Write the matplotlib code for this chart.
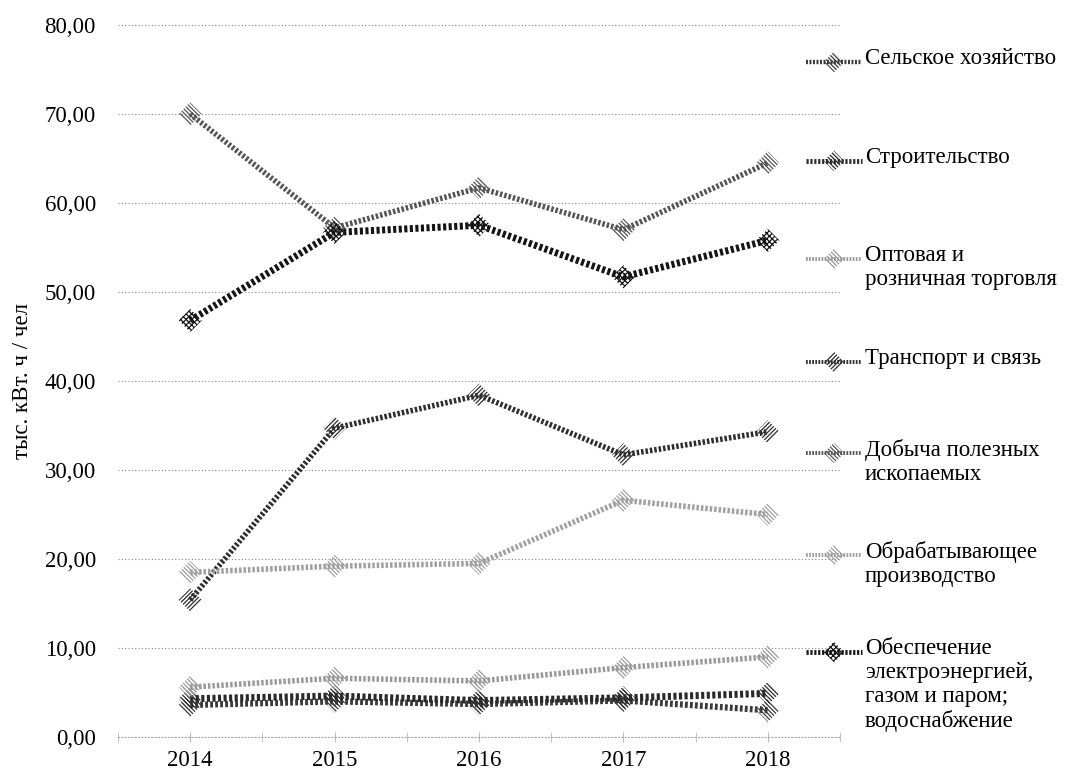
import matplotlib
matplotlib.use("Agg")
import matplotlib.pyplot as plt
from matplotlib.ticker import FuncFormatter, FixedLocator

plt.rcParams['font.family'] = ['Liberation Serif', 'DejaVu Serif']
plt.rcParams['hatch.linewidth'] = 0.9

years = ['2014', '2015', '2016', '2017', '2018']

selsk   = [3.6, 4.0, 3.7, 4.1, 3.0]
stroit  = [4.3, 4.6, 4.1, 4.4, 4.9]
torg    = [5.6, 6.6, 6.3, 7.8, 9.0]
transp  = [15.4, 34.7, 38.4, 31.7, 34.3]
dobycha = [70.0, 57.2, 61.7, 57.0, 64.5]
obrab   = [18.5, 19.2, 19.5, 26.6, 25.0]
energ   = [46.8, 56.7, 57.5, 51.7, 55.8]

labels = ['Сельское хозяйство',
          'Строительство',
          'Оптовая и\nрозничная торговля',
          'Транспорт и связь',
          'Добыча полезных\nископаемых',
          'Обрабатывающее\nпроизводство',
          'Обеспечение\nэлектроэнергией,\nгазом и паром;\nводоснабжение']
series = [selsk, stroit, torg, transp, dobycha, obrab, energ]

# (line colour, line width, hatch for the diamonds)
bs = '\\' * 8
fs = '/' * 8
styles = [('#3a3a3a', 4.5, bs),
          ('#2a2a2a', 5.0, bs),
          ('#9a9a9a', 4.0, bs),
          ('#2e2e2e', 4.0, fs),
          ('#555555', 4.0, bs),
          ('#a0a0a0', 4.0, bs),
          ('#151515', 5.0, 'xxxxxx')]

fig = plt.figure(figsize=(10.71, 7.74), dpi=100)
ax = fig.add_axes([118/1071, 1-737/774, (840-118)/1071, (737-25)/774])

x = list(range(len(years)))
for vals, (col, lw, h) in zip(series, styles):
    ax.plot(x, vals, color=col, lw=lw, dashes=(0.45, 0.35), zorder=3)
    ax.scatter(x, vals, marker='D', s=140, facecolor='none', edgecolor=col,
               linewidths=0, hatch=h, zorder=4)

ax.set_xlim(-0.5, len(years) - 0.5)
ax.set_ylim(0, 80)
ax.set_yticks(range(0, 81, 10))
ax.yaxis.set_major_formatter(FuncFormatter(lambda v, p: f'{v:.2f}'.replace('.', ',')))
ax.set_xticks(x)
ax.set_xticklabels(years)
ax.xaxis.set_minor_locator(FixedLocator([i - 0.5 for i in range(len(years) + 1)]))
ax.tick_params(axis='y', length=0, labelsize=16.5, pad=16)
ax.tick_params(axis='x', which='both', length=7, direction='inout', color='#bbbbbb',
               labelsize=16.5, pad=6)

ax.grid(axis='y', color='#888888', linestyle=(0, (1, 2)), lw=0.8)
for s in ['top', 'right', 'left']:
    ax.spines[s].set_visible(False)
ax.spines['bottom'].set_color('#aaaaaa')
ax.spines['bottom'].set_linestyle((0, (1, 2)))
ax.spines['bottom'].set_linewidth(0.8)
ax.set_ylabel('тыс. кВт. ч / чел', fontsize=16.5, labelpad=8)

# legend drawn in figure pixel space on the right
lax = fig.add_axes([0, 0, 1, 1], zorder=5)
lax.set_xlim(0, 1071)
lax.set_ylim(774, 0)
lax.axis('off')
leg_y = [62, 161, 259, 362, 453, 555, 652]
for ly, lab, (col, lw, h) in zip(leg_y, labels, styles):
    lax.plot([806, 862], [ly, ly], color=col, lw=lw * 0.7, dashes=(0.45, 0.35))
    lax.scatter([834], [ly], marker='D', s=110, facecolor='none', edgecolor=col,
                linewidths=0, hatch=h)
    lax.text(865, ly - 14, lab, fontsize=16.5, va='top', ha='left', linespacing=1.18)

fig.savefig('out.png', dpi=100)
